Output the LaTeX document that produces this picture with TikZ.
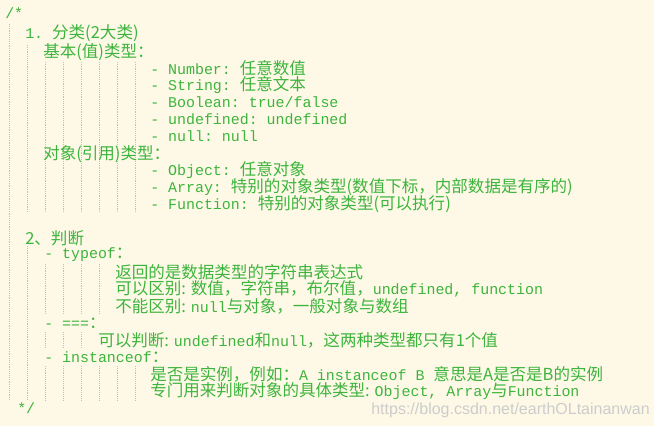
\documentclass[tikz,border=0pt]{standalone}
\usepackage{fontspec}
\setmonofont{Liberation Mono}
\newfontfamily\cjk{Noto Sans CJK SC}
\newcommand\zh[1]{{\cjk\fontsize{12.4pt}{12pt}\selectfont #1}}
\definecolor{codegreen}{HTML}{3DB43D}
\definecolor{paper}{HTML}{FEF9E6}
\begin{document}
\begin{tikzpicture}[x=0.75pt,y=-0.75pt,
  line/.style={anchor=west, inner sep=0, text=codegreen, font=\ttfamily\fontsize{11.2pt}{12pt}\selectfont},
  guide/.style={densely dotted, black!25}]
\fill[paper] (0,0) rectangle (654,426);
\useasboundingbox (0,0) rectangle (654,426);
% indent guides
\draw[guide] (9,24) -- (9,400);
\draw[guide] (27,45) -- (27,212);
\foreach \gx in {45,63,81,99,117,135}
  \draw[guide] (\gx,62) -- (\gx,212);
\draw[guide] (27,246) -- (27,400);
\foreach \gx in {45,63,81,99}
  \draw[guide] (\gx,264) -- (\gx,314);
\foreach \gx in {45,63,81}
  \draw[guide] (\gx,332) -- (\gx,348);
\foreach \gx in {45,63,81,99,117,135}
  \draw[guide] (\gx,366) -- (\gx,400);
% text lines
\node[line] (open) at (5,13) {/*};
\node[line] (h1) at (25,33) {1. \zh{分类(2大类)}};
\node[line] (basic) at (43,52) {\zh{基本(值)类型：}};
\node[line] (num) at (150,68) {- Number: \zh{任意数值}};
\node[line] (str) at (150,85) {- String: \zh{任意文本}};
\node[line] (bool) at (150,102) {- Boolean: true/false};
\node[line] (undef) at (150,119) {- undefined: undefined};
\node[line] (null) at (150,136) {- null: null};
\node[line] (ref) at (43,154) {\zh{对象(引用)类型：}};
\node[line] (obj) at (150,170) {- Object: \zh{任意对象}};
\node[line] (arr) at (150,187) {- Array: \zh{特别的对象类型(数值下标，内部数据是有序的)}};
\node[line] (fun) at (150,204) {- Function: \zh{特别的对象类型(可以执行)}};
\node[line] (h2) at (25,238) {\zh{2、判断}};
\node[line] (tof) at (44,255) {- typeof\zh{：}};
\node[line] (tof1) at (115,272) {\zh{返回的是数据类型的字符串表达式}};
\node[line] (tof2) at (115,289) {\zh{可以区别: 数值，字符串，布尔值，}undefined, function};
\node[line] (tof3) at (115,306) {\zh{不能区别: }null\zh{与对象，一般对象与数组}};
\node[line] (eq) at (44,323) {- ===\zh{：}};
\node[line] (eq1) at (98,340) {\zh{可以判断: }undefined\zh{和}null\zh{，这两种类型都只有1个值}};
\node[line] (inst) at (44,357) {- instanceof\zh{：}};
\node[line] (inst1) at (150,374) {\zh{是否是实例，例如：}A instanceof B \zh{意思是A是否是B的实例}};
\node[line] (inst2) at (150,391) {\zh{专门用来判断对象的具体类型: }Object, Array\zh{与}Function};
\node[line] (close) at (17,408) {*/};
\node[anchor=east, inner sep=0, text=black!20, font=\fontspec{Liberation Sans}\fontsize{12pt}{12pt}\selectfont] (mark) at (650,410) {https://blog.csdn.net/earthOLtainanwan};
\end{tikzpicture}
\end{document}
